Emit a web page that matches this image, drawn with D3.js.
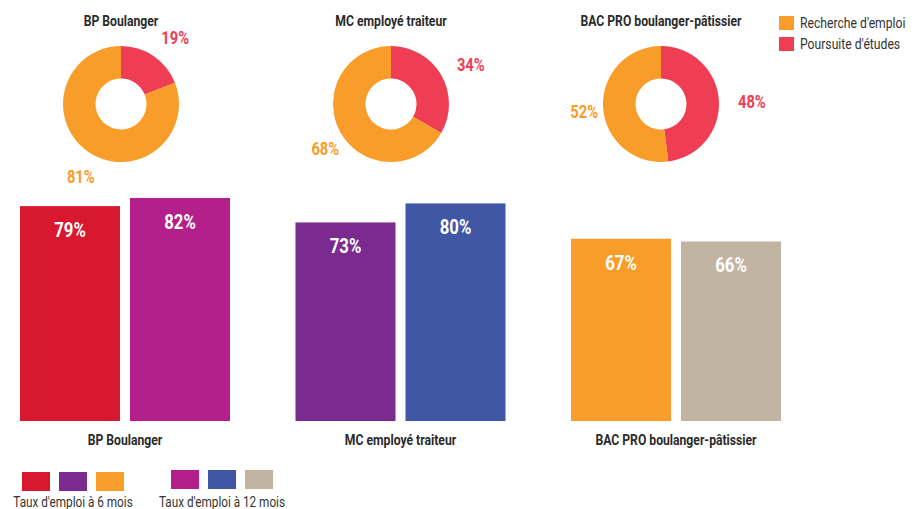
<!DOCTYPE html>
<html>
<head>
<meta charset="utf-8">
<script src="https://cdn.jsdelivr.net/npm/d3@7"></script>
<style>
  body { margin: 0; background: #fff; }
  svg text { font-family: Roboto, "Noto Sans", sans-serif; }
</style>
</head>
<body>
<div id="chart"></div>
<script>
// Formations and their outcomes
const formations = ["BP Boulanger", "MC employé traiteur", "BAC PRO boulanger-pâtissier"];

// donut: share of graduates still looking for a job vs continuing their studies
const poursuiteEtudes = [19, 34, 48];
const rechercheEmploi = [81, 68, 52];
const donutKeys = ["Poursuite d'études", "Recherche d'emploi"];

// bars: employment rate
const emploi6mois = [79, 73, 67];
const emploi12mois = [82, 80, 66];
const barKeys = ["Taux d'emploi à 6 mois", "Taux d'emploi à 12 mois"];

const width = 920, height = 509;
const textDark = "#2b2b2b";
const squeeze = 0.84; // no condensed font installed, so squash Roboto a bit

const donutColor = d3.scaleOrdinal().domain(donutKeys).range(["#ef3e54", "#f89d29"]);
const colors6 = ["#d7182f", "#7b2a8f", "#f89d29"];
const colors12 = ["#b31f8b", "#3f57a5", "#c1b4a2"];

const svg = d3.select("#chart").append("svg")
  .attr("width", width)
  .attr("height", height);

// place a text at (x,y) and squeeze it horizontally
const at = (x, y) => `translate(${x},${y}) scale(${squeeze},1)`;

// =======================
// DONUTS
// =======================
const donutX = d3.scalePoint().domain(formations).range([121, 661]);
const donutCy = 104;
const outerR = 58, innerR = 25.5;

const pie = d3.pie().sort(null).value(d => d.value);
const arc = d3.arc().innerRadius(innerR).outerRadius(outerR);
const labelArc = d3.arc().innerRadius(84).outerRadius(84);

formations.forEach((f, i) => {
  const g = svg.append("g")
    .attr("transform", `translate(${donutX(f)},${donutCy})`);

  const slices = pie([
    { key: donutKeys[0], value: poursuiteEtudes[i] },
    { key: donutKeys[1], value: rechercheEmploi[i] }
  ]);

  g.selectAll("path")
    .data(slices)
    .enter()
    .append("path")
      .attr("d", arc)
      .attr("fill", d => donutColor(d.data.key));

  g.selectAll("text.pct")
    .data(slices)
    .enter()
    .append("text")
      .attr("class", "pct")
      .attr("transform", d => {
        const c = labelArc.centroid(d);
        return at(c[0] + 7, c[1] + 3);
      })
      .attr("dy", "0.35em")
      .attr("text-anchor", "middle")
      .style("font-size", "17.5px")
      .style("font-weight", "bold")
      .style("fill", d => donutColor(d.data.key))
      .text(d => d.data.value + "%");

  svg.append("text")
    .attr("transform", at(donutX(f), 26))
    .attr("text-anchor", "middle")
    .style("font-size", "14.5px")
    .style("font-weight", "bold")
    .style("fill", textDark)
    .text(f);
});

// legend (top right)
const topLegend = svg.append("g").attr("transform", "translate(779,16)");
const topLegendItems = [donutKeys[1], donutKeys[0]];
topLegend.selectAll("rect")
  .data(topLegendItems)
  .enter()
  .append("rect")
    .attr("x", 0)
    .attr("y", (d, i) => i * 21)
    .attr("width", 15)
    .attr("height", 14)
    .attr("fill", d => donutColor(d));
topLegend.selectAll("text")
  .data(topLegendItems)
  .enter()
  .append("text")
    .attr("transform", (d, i) => at(21, i * 21 + 7))
    .attr("dy", "0.35em")
    .style("font-size", "14.5px")
    .style("fill", "#333")
    .text(d => d);

// =======================
// BARS
// =======================
const x0 = d3.scaleBand().domain(formations).range([20, 781]).paddingInner(0.2377);
const x1 = d3.scaleBand().domain(barKeys).range([0, x0.bandwidth()]).paddingInner(0.0909);
const y = d3.scaleLinear().domain([0, 100]).range([421, 149]);

const barData = formations.map((f, i) => ({
  formation: f,
  bars: [
    { key: barKeys[0], value: emploi6mois[i], color: colors6[i] },
    { key: barKeys[1], value: emploi12mois[i], color: colors12[i] }
  ]
}));

const groups = svg.selectAll("g.group")
  .data(barData)
  .enter()
  .append("g")
    .attr("class", "group")
    .attr("transform", d => `translate(${x0(d.formation)},0)`);

groups.selectAll("rect")
  .data(d => d.bars)
  .enter()
  .append("rect")
    .attr("x", d => x1(d.key))
    .attr("y", d => y(d.value))
    .attr("width", x1.bandwidth())
    .attr("height", d => y(0) - y(d.value))
    .attr("fill", d => d.color);

groups.selectAll("text.val")
  .data(d => d.bars)
  .enter()
  .append("text")
    .attr("class", "val")
    .attr("transform", d => at(x1(d.key) + x1.bandwidth() / 2, y(d.value) + 31))
    .attr("text-anchor", "middle")
    .style("font-size", "20px")
    .style("font-weight", "bold")
    .style("fill", "#fff")
    .text(d => d.value + "%");

groups.append("text")
  .attr("transform", at(x0.bandwidth() / 2, 445))
  .attr("text-anchor", "middle")
  .style("font-size", "14.5px")
  .style("font-weight", "bold")
  .style("fill", textDark)
  .text(d => d.formation);

// legend (bottom)
const legendGroups = [
  { label: barKeys[0], colors: colors6, x: 22, y: 472 },
  { label: barKeys[1], colors: colors12, x: 171, y: 470 }
];
const bottomLegend = svg.selectAll("g.blegend")
  .data(legendGroups)
  .enter()
  .append("g")
    .attr("class", "blegend")
    .attr("transform", d => `translate(${d.x},${d.y})`);

bottomLegend.selectAll("rect")
  .data(d => d.colors)
  .enter()
  .append("rect")
    .attr("x", (d, i) => i * 37)
    .attr("y", 0)
    .attr("width", 28)
    .attr("height", 19)
    .attr("fill", d => d);

bottomLegend.append("text")
  .attr("transform", d => at(51, 507 - d.y))
  .attr("text-anchor", "middle")
  .style("font-size", "14px")
  .style("fill", "#333")
  .text(d => d.label);
</script>
</body>
</html>
